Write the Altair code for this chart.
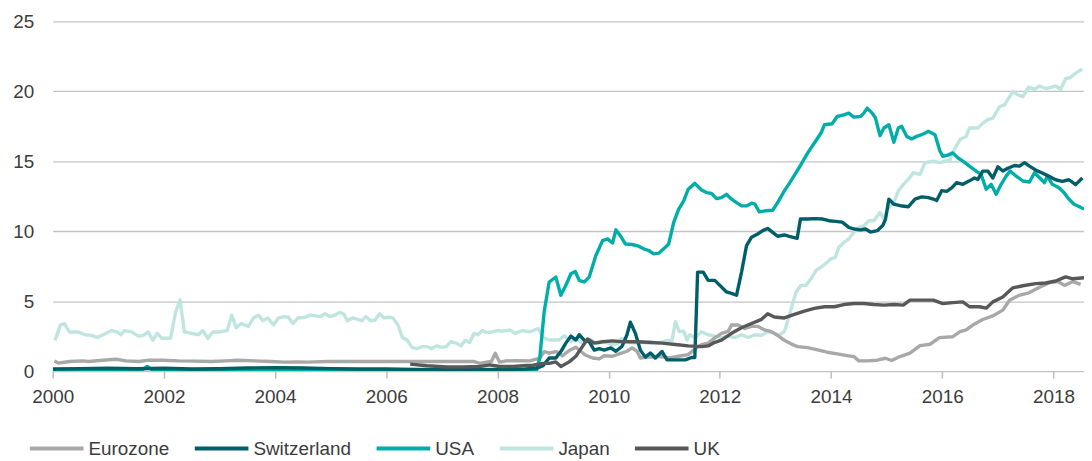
import altair as alt
import pandas as pd

series_order = ["Eurozone", "Switzerland", "USA", "Japan", "UK"]
series_colors = ["#a8a8a8", "#005e69", "#00ada8", "#bfe5e0", "#585858"]
draw_order = ["Japan", "Eurozone", "USA", "Switzerland", "UK"]

x_ticks = [2000, 2002, 2004, 2006, 2008, 2010, 2012, 2014, 2016, 2018]
y_ticks = [0, 5, 10, 15, 20, 25]

japan_t = [2000.04, 2000.14, 2000.21, 2000.30, 2000.46, 2000.58, 2000.70, 2000.80, 2000.96, 2001.06,
           2001.16, 2001.22, 2001.29, 2001.42, 2001.54, 2001.63, 2001.72, 2001.80, 2001.88, 2001.96,
           2002.12, 2002.21, 2002.29, 2002.37, 2002.50, 2002.62, 2002.70, 2002.79, 2002.88, 2003.00,
           2003.14, 2003.22, 2003.30, 2003.39, 2003.52, 2003.61, 2003.70, 2003.78, 2003.87, 2003.97,
           2004.06, 2004.16, 2004.24, 2004.32, 2004.41, 2004.54, 2004.63, 2004.73, 2004.82, 2004.89,
           2004.98, 2005.07, 2005.16, 2005.23, 2005.30, 2005.39, 2005.49, 2005.56, 2005.63, 2005.72,
           2005.80, 2005.88, 2005.96, 2006.04, 2006.12, 2006.21, 2006.29, 2006.38, 2006.46, 2006.55,
           2006.65, 2006.74, 2006.81, 2006.90, 2007.00, 2007.08, 2007.16, 2007.26, 2007.34, 2007.42,
           2007.50, 2007.58, 2007.65, 2007.73, 2007.81, 2007.90, 2008.00, 2008.09, 2008.22, 2008.32,
           2008.45, 2008.58, 2008.73, 2008.82, 2008.93, 2009.11, 2009.20, 2009.32, 2009.41, 2009.53,
           2009.68, 2009.80, 2009.92, 2010.07, 2010.16, 2010.24, 2010.35, 2010.48, 2010.57, 2010.69,
           2010.81, 2010.90, 2011.05, 2011.14, 2011.20, 2011.27, 2011.35, 2011.41, 2011.46, 2011.55,
           2011.67, 2011.79, 2011.91, 2012.03, 2012.15, 2012.27, 2012.39, 2012.51, 2012.63, 2012.75,
           2012.86, 2012.98, 2013.07, 2013.16, 2013.25, 2013.37, 2013.46, 2013.55, 2013.64, 2013.73,
           2013.82, 2013.90, 2013.99, 2014.08, 2014.14, 2014.23, 2014.32, 2014.41, 2014.50, 2014.59,
           2014.68, 2014.77, 2014.88, 2014.95, 2015.04, 2015.13, 2015.21, 2015.30, 2015.39, 2015.48,
           2015.60, 2015.69, 2015.84, 2015.96, 2016.14, 2016.23, 2016.32, 2016.43, 2016.49, 2016.64,
           2016.73, 2016.82, 2016.91, 2017.03, 2017.12, 2017.27, 2017.36, 2017.45, 2017.55, 2017.66,
           2017.75, 2017.86, 2017.95, 2018.04, 2018.13, 2018.22, 2018.31, 2018.40, 2018.52]
japan_v = [2.2, 3.3, 3.4, 2.8, 2.8, 2.6, 2.55, 2.4, 2.7, 2.9,
           2.8, 2.6, 2.9, 2.8, 2.5, 2.55, 2.8, 2.2, 2.7, 2.35,
           2.35, 4.2, 5.1, 2.8, 2.7, 2.6, 2.9, 2.35, 2.8, 2.8,
           2.9, 4.0, 3.1, 3.4, 3.2, 3.8, 4.0, 3.6, 3.8, 3.3,
           3.8, 3.9, 3.85, 3.4, 3.8, 3.85, 4.0, 3.95, 3.9, 4.1,
           3.9, 4.0, 4.2, 4.1, 3.6, 3.8, 3.7, 3.6, 3.9, 3.6,
           3.65, 4.1, 3.8, 3.85, 3.8, 3.3, 2.4, 2.2, 1.7, 1.6,
           1.75, 1.75, 1.6, 1.8, 1.7, 1.75, 2.1, 2.0, 1.8, 2.2,
           2.05, 2.7, 2.6, 2.9, 2.75, 2.8, 2.9, 2.85, 2.95, 2.7,
           2.9, 2.8, 3.05, 2.4, 2.22, 2.22, 2.53, 2.11, 2.3, 1.99,
           2.22, 1.99, 2.11, 1.87, 2.0, 2.34, 2.1, 2.0, 2.1, 2.0,
           2.0, 2.0, 2.2, 2.2, 3.53, 2.82, 2.85, 2.22, 2.6, 2.4,
           2.82, 2.6, 2.5, 2.4, 2.5, 2.4, 2.6, 2.4, 2.6, 2.55,
           2.82, 2.7, 2.58, 2.82, 4.0, 5.66, 6.13, 6.13, 6.6, 7.2,
           7.44, 7.67, 8.0, 8.14, 8.86, 9.2, 9.45, 9.92, 10.28, 10.39,
           10.75, 10.75, 11.34, 10.87, 11.7, 12.05, 12.88, 13.35, 13.7, 14.18,
           14.06, 14.9, 15.0, 14.9, 15.1, 15.96, 16.55, 16.78, 17.38, 17.38,
           17.73, 17.97, 18.09, 18.9, 19.03, 19.98, 19.74, 19.62, 20.29, 20.15,
           20.38, 20.2, 20.29, 20.38, 20.15, 20.9, 21.0, 21.3, 21.6]

euro_t = [2000.03, 2000.10, 2000.30, 2000.54, 2000.65, 2000.84, 2001.14, 2001.32, 2001.55, 2001.73,
          2001.97, 2002.27, 2002.56, 2002.86, 2003.10, 2003.33, 2003.63, 2003.93, 2004.17, 2004.40,
          2004.58, 2004.94, 2005.42, 2005.90, 2006.38, 2006.85, 2007.33, 2007.57, 2007.68, 2007.80,
          2007.89, 2007.96, 2008.04, 2008.16, 2008.34, 2008.58, 2008.76, 2008.84, 2008.93, 2009.05,
          2009.17, 2009.29, 2009.41, 2009.50, 2009.59, 2009.71, 2009.83, 2009.92, 2010.07, 2010.19,
          2010.33, 2010.42, 2010.51, 2010.57, 2010.69, 2010.80, 2010.90, 2011.08, 2011.26, 2011.43,
          2011.58, 2011.67, 2011.79, 2011.91, 2012.03, 2012.15, 2012.21, 2012.33, 2012.45, 2012.57,
          2012.68, 2012.80, 2012.92, 2013.04, 2013.16, 2013.28, 2013.40, 2013.58, 2013.76, 2013.93,
          2014.11, 2014.29, 2014.41, 2014.50, 2014.65, 2014.83, 2014.98, 2015.09, 2015.24, 2015.42,
          2015.60, 2015.78, 2015.95, 2016.19, 2016.32, 2016.43, 2016.55, 2016.73, 2016.91, 2017.09,
          2017.21, 2017.38, 2017.56, 2017.75, 2017.93, 2018.08, 2018.20, 2018.35, 2018.49]
euro_v = [0.73, 0.57, 0.69, 0.73, 0.69, 0.76, 0.85, 0.73, 0.69, 0.78,
          0.78, 0.73, 0.71, 0.69, 0.73, 0.78, 0.73, 0.69, 0.64, 0.66,
          0.64, 0.69, 0.69, 0.69, 0.69, 0.69, 0.69, 0.69, 0.55, 0.64,
          0.69, 1.28, 0.64, 0.73, 0.75, 0.73, 0.92, 1.4, 1.28, 1.4,
          1.1, 1.47, 1.7, 1.4, 1.13, 0.94, 0.87, 1.1, 1.06, 1.23,
          1.42, 1.66, 1.42, 0.94, 1.0, 1.0, 1.06, 0.94, 1.06, 1.18,
          1.66, 1.89, 2.0, 2.37, 2.7, 2.84, 3.3, 3.3, 3.05, 3.2,
          3.2, 2.95, 2.84, 2.55, 2.2, 1.95, 1.75, 1.68, 1.52, 1.35,
          1.23, 1.11, 1.04, 0.73, 0.73, 0.78, 0.92, 0.76, 1.04, 1.28,
          1.82, 1.92, 2.39, 2.46, 2.82, 2.94, 3.29, 3.69, 3.95, 4.36,
          5.07, 5.42, 5.6, 6.0, 6.32, 6.4, 6.13, 6.4, 6.2]

uk_t = [2006.43, 2006.73, 2007.09, 2007.39, 2007.68, 2007.86, 2008.04, 2008.28, 2008.52, 2008.64,
        2008.82, 2008.93, 2009.05, 2009.14, 2009.29, 2009.41, 2009.53, 2009.62, 2009.74, 2009.89,
        2010.07, 2010.24, 2010.48, 2010.72, 2010.96, 2011.20, 2011.43, 2011.67, 2011.79, 2011.91,
        2012.03, 2012.21, 2012.39, 2012.57, 2012.75, 2012.86, 2012.98, 2013.16, 2013.34, 2013.52,
        2013.70, 2013.88, 2014.06, 2014.23, 2014.41, 2014.59, 2014.77, 2014.95, 2015.13, 2015.30,
        2015.42, 2015.60, 2015.84, 2016.01, 2016.19, 2016.37, 2016.49, 2016.67, 2016.79, 2016.91,
        2017.09, 2017.27, 2017.45, 2017.68, 2017.86, 2018.04, 2018.22, 2018.35, 2018.56]
uk_v = [0.5, 0.38, 0.29, 0.29, 0.33, 0.45, 0.33, 0.33, 0.4, 0.42,
        0.55, 0.55, 0.66, 0.33, 0.66, 1.06, 1.77, 2.3, 2.0, 2.1,
        2.16, 2.1, 2.1, 2.06, 2.0, 1.9, 1.8, 1.75, 1.8, 2.06,
        2.22, 2.7, 3.1, 3.4, 3.7, 4.1, 3.87, 3.8, 4.05, 4.29,
        4.48, 4.6, 4.6, 4.76, 4.83, 4.83, 4.76, 4.72, 4.76, 4.72,
        5.07, 5.07, 5.07, 4.83, 4.9, 4.95, 4.6, 4.6, 4.5, 4.95,
        5.3, 5.95, 6.1, 6.25, 6.3, 6.44, 6.74, 6.6, 6.68]

swiss_t = [2000.0, 2000.5, 2001.0, 2001.5, 2002.0, 2002.5, 2003.0, 2003.5, 2004.0, 2004.5,
           2005.0, 2005.5, 2006.0, 2006.5, 2007.0, 2007.5, 2008.0, 2008.5, 2008.70, 2008.82,
           2008.93, 2009.05, 2009.14, 2009.23, 2009.32, 2009.41, 2009.47, 2009.56, 2009.65, 2009.74,
           2009.83, 2009.92, 2010.04, 2010.13, 2010.24, 2010.33, 2010.39, 2010.48, 2010.57, 2010.66,
           2010.75, 2010.84, 2010.96, 2011.05, 2011.20, 2011.38, 2011.49, 2011.55, 2011.60, 2011.70,
           2011.79, 2011.91, 2012.00, 2012.12, 2012.21, 2012.30, 2012.39, 2012.48, 2012.57, 2012.68,
           2012.77, 2012.86, 2012.95, 2013.04, 2013.16, 2013.25, 2013.39, 2013.45, 2013.58, 2013.70,
           2013.85, 2013.96, 2014.08, 2014.20, 2014.32, 2014.41, 2014.53, 2014.62, 2014.71, 2014.83,
           2014.93, 2014.98, 2015.04, 2015.13, 2015.28, 2015.39, 2015.51, 2015.63, 2015.75, 2015.84,
           2015.90, 2015.99, 2016.08, 2016.17, 2016.26, 2016.37, 2016.49, 2016.58, 2016.64, 2016.73,
           2016.82, 2016.91, 2017.00, 2017.09, 2017.18, 2017.30, 2017.39, 2017.48, 2017.57, 2017.69,
           2017.80, 2017.92, 2018.04, 2018.16, 2018.28, 2018.40, 2018.52]
swiss_v = [0.15, 0.18, 0.2, 0.17, 0.2, 0.15, 0.17, 0.22, 0.25, 0.22,
           0.18, 0.15, 0.15, 0.12, 0.1, 0.1, 0.12, 0.15, 0.2, 0.38,
           0.94, 0.94, 1.4, 2.0, 2.5, 2.22, 2.6, 2.22, 2.1, 1.5,
           1.6, 1.5, 1.66, 1.42, 1.77, 2.6, 3.5, 2.7, 1.5, 1.0,
           1.3, 0.94, 1.4, 0.8, 0.8, 0.8, 0.97, 0.97, 7.08, 7.08,
           6.49, 6.49, 6.13, 5.66, 5.56, 5.42, 7.08, 8.97, 9.57, 9.8,
           10.04, 10.2, 9.92, 9.64, 9.73, 9.63, 9.49, 10.87, 10.87, 10.9,
           10.87, 10.75, 10.7, 10.65, 10.28, 10.16, 10.1, 10.16, 9.94, 10.04,
           10.4, 10.87, 12.29, 11.93, 11.8, 11.75, 12.3, 12.45, 12.4, 12.3,
           12.2, 12.9, 12.85, 13.1, 13.47, 13.35, 13.6, 13.8, 13.7, 14.3,
           14.3, 13.8, 14.6, 14.3, 14.5, 14.7, 14.65, 14.9, 14.65, 14.35,
           14.16, 13.92, 13.68, 13.57, 13.68, 13.33, 13.8]

usa_t = [2000.0, 2000.5, 2001.0, 2001.5, 2001.62, 2001.70, 2001.78, 2002.0, 2002.5, 2003.0,
         2003.5, 2004.0, 2004.5, 2005.0, 2005.5, 2006.0, 2006.5, 2007.0, 2007.5, 2008.0,
         2008.5, 2008.70, 2008.76, 2008.84, 2008.93, 2009.05, 2009.14, 2009.23, 2009.32, 2009.40,
         2009.47, 2009.56, 2009.65, 2009.77, 2009.89, 2009.98, 2010.07, 2010.13, 2010.21, 2010.30,
         2010.42, 2010.54, 2010.63, 2010.72, 2010.81, 2010.90, 2010.99, 2011.08, 2011.17, 2011.26,
         2011.35, 2011.43, 2011.55, 2011.67, 2011.76, 2011.85, 2011.94, 2012.03, 2012.12, 2012.21,
         2012.30, 2012.39, 2012.48, 2012.57, 2012.63, 2012.71, 2012.83, 2012.95, 2013.04, 2013.16,
         2013.25, 2013.34, 2013.46, 2013.58, 2013.70, 2013.82, 2013.88, 2014.02, 2014.11, 2014.23,
         2014.32, 2014.41, 2014.53, 2014.59, 2014.65, 2014.74, 2014.80, 2014.88, 2014.95, 2015.04,
         2015.13, 2015.21, 2015.27, 2015.36, 2015.45, 2015.54, 2015.66, 2015.75, 2015.87, 2015.96,
         2016.01, 2016.10, 2016.19, 2016.28, 2016.37, 2016.49, 2016.61, 2016.70, 2016.79, 2016.88,
         2016.97, 2017.06, 2017.15, 2017.22, 2017.33, 2017.45, 2017.57, 2017.66, 2017.75, 2017.84,
         2017.89, 2017.98, 2018.10, 2018.19, 2018.28, 2018.37, 2018.46, 2018.55]
usa_v = [0.08, 0.1, 0.1, 0.1, 0.12, 0.33, 0.12, 0.1, 0.1, 0.08,
         0.12, 0.12, 0.1, 0.1, 0.08, 0.07, 0.06, 0.05, 0.05, 0.05,
         0.05, 0.05, 0.92, 4.24, 6.37, 6.72, 5.42, 6.13, 6.96, 7.12,
         6.49, 6.37, 6.72, 8.26, 9.33, 9.45, 9.16, 10.1, 9.68, 9.09,
         9.05, 8.93, 8.74, 8.62, 8.38, 8.43, 8.74, 9.09, 10.63, 11.58,
         12.17, 13.0, 13.42, 12.95, 12.76, 12.71, 12.33, 12.4, 12.64, 12.29,
         12.05, 11.81, 11.81, 12.0, 11.93, 11.39, 11.46, 11.5, 12.05, 12.88,
         13.42, 14.0, 14.77, 15.6, 16.31, 17.02, 17.61, 17.68, 18.2, 18.32,
         18.44, 18.16, 18.2, 18.44, 18.8, 18.44, 18.09, 16.83, 17.38, 17.61,
         16.36, 17.38, 17.5, 16.78, 16.6, 16.78, 16.95, 17.14, 16.9, 15.72,
         15.36, 15.44, 15.6, 15.25, 15.01, 14.65, 14.3, 14.06, 13.0, 13.35,
         12.64, 13.35, 13.94, 14.3, 13.94, 13.59, 13.52, 14.18, 13.82, 13.47,
         13.94, 13.35, 13.11, 12.76, 12.29, 11.93, 11.77, 11.58]

series_data = {
    "Japan": (japan_t, japan_v),
    "Eurozone": (euro_t, euro_v),
    "USA": (usa_t, usa_v),
    "Switzerland": (swiss_t, swiss_v),
    "UK": (uk_t, uk_v),
}

rows = []
for i, name in enumerate(draw_order):
    ts, vs = series_data[name]
    for t, v in zip(ts, vs):
        rows.append({"series": name, "year": t, "value": v, "layer": i})
df = pd.DataFrame(rows)

FONT = "Liberation Sans"
TEXT = "#3c3c3c"

chart = alt.Chart(df).mark_line(strokeWidth=3.4, clip=True, strokeJoin="round").encode(
    x=alt.X("year:Q",
            scale=alt.Scale(domain=[2000, 2018.55], nice=False, zero=False),
            axis=alt.Axis(values=x_ticks, format="d", title=None, grid=False,
                          domain=False, ticks=True, tickSize=7, tickColor="#bdbdbd",
                          tickWidth=1.5, labelPadding=10, labelFontSize=19,
                          labelColor=TEXT, labelFont=FONT, labelFlush=False)),
    y=alt.Y("value:Q",
            scale=alt.Scale(domain=[0, 25], nice=False),
            axis=alt.Axis(values=y_ticks, title=None, grid=True, gridColor="#c4c4c4",
                          gridWidth=1.3, domain=False, ticks=False, labelPadding=19,
                          labelFontSize=19, labelColor=TEXT, labelFont=FONT)),
    color=alt.Color("series:N",
                    scale=alt.Scale(domain=series_order, range=series_colors),
                    legend=alt.Legend(title=None, orient="none", direction="horizontal",
                                      legendX=-25, legendY=401,
                                      symbolType="stroke", symbolStrokeWidth=4,
                                      symbolSize=2916, labelFontSize=19, labelFont=FONT,
                                      labelColor=TEXT, labelOffset=3, columnPadding=17,
                                      columns=5)),
    detail="layer:N",
    order=alt.Order("year:Q"),
).properties(
    width=1038,
    height=352,
    padding={"left": 4, "top": 3, "right": 0, "bottom": 0},
).configure(background="white").configure_view(stroke=None, strokeWidth=0)

chart.save("out.html", embed_options={"renderer": "svg", "actions": False})
